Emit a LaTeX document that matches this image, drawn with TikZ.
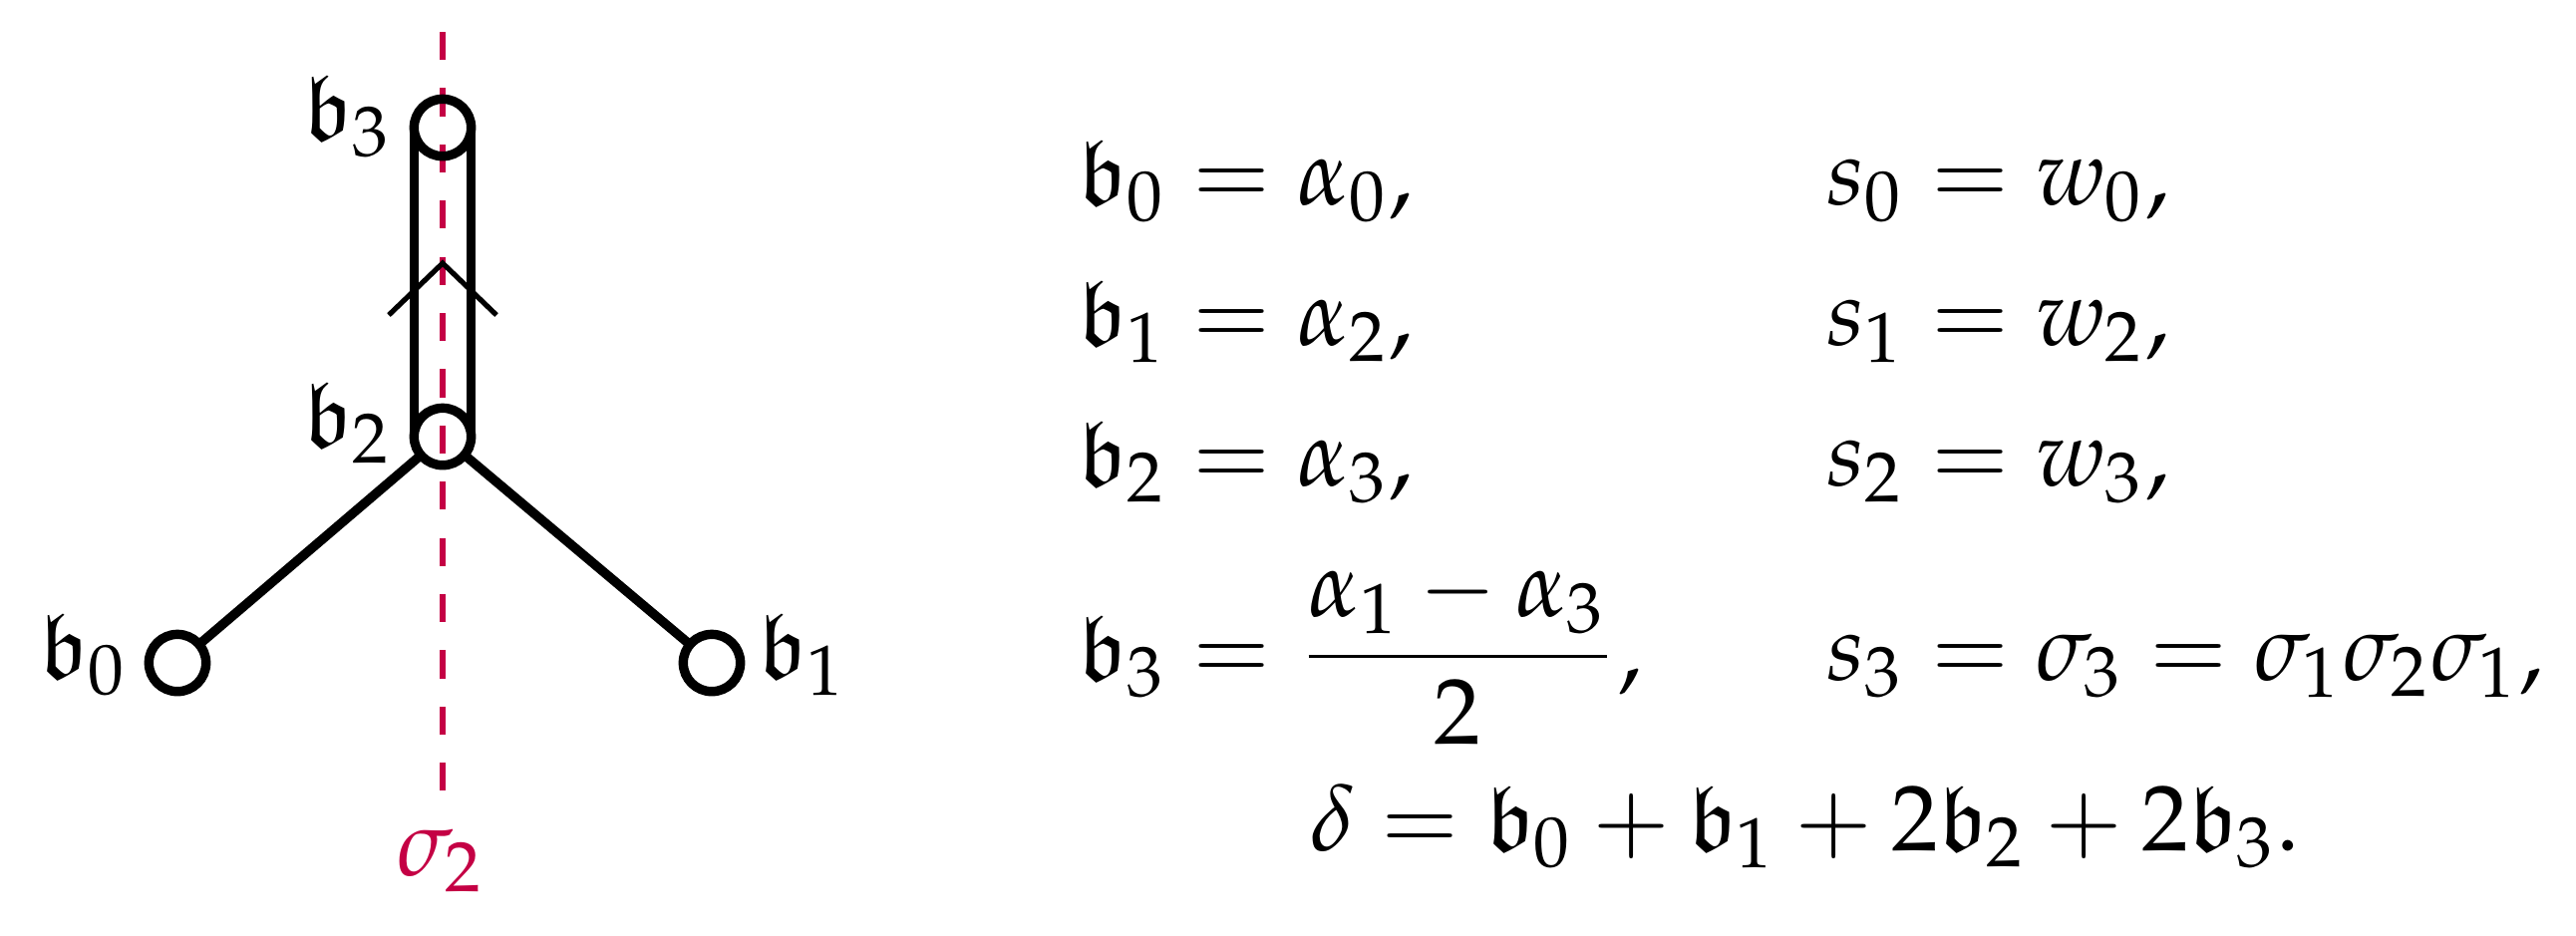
\documentclass[tikz,border=0pt]{standalone}
\usepackage{amsmath}
\usepackage{mathpazo}
\usepackage{amssymb}
\definecolor{sigred}{RGB}{196,0,68}
\tikzset{
  vert/.style={circle, draw, line width=1pt, minimum size=6.1pt, inner sep=0pt, outer sep=0pt},
  edge/.style={line width=1pt},
  chev/.style={line width=0.55pt},
  mirror/.style={sigred, line width=0.65pt, dash pattern=on 3pt off 3pt},
  lab/.style={inner sep=0pt, font=\fontsize{10}{12}\selectfont},
  eq/.style={inner sep=0pt, anchor=base west, font=\fontsize{10}{12}\selectfont}
}
\begin{document}
\begin{tikzpicture}[x=0.10638pt, y=-0.10638pt]
\useasboundingbox (0,0) rectangle (2584,938);
% mirror line
\coordinate (mtop) at (444,32);
\coordinate (mbot) at (444,810);
\draw[mirror] (mtop) -- (mbot);
\node[lab, anchor=base, text=sigred] (sig) at (443,878) {$\sigma_2$};
% vertices
\node[vert] (v3) at (444,128) {};
\node[vert] (v2) at (444,438) {};
\node[vert] (v0) at (178,665) {};
\node[vert] (v1) at (714,665) {};
% edges
\draw[edge] (v2) -- (v0);
\draw[edge] (v2) -- (v1);
\draw[edge] (v3.west) -- (v2.west);
\draw[edge] (v3.east) -- (v2.east);
% chevron
\coordinate (cl) at (390,316);
\coordinate (ca) at (444,264);
\coordinate (cr) at (498,316);
\draw[chev] (cl) -- (ca) -- (cr);
% labels
\node[lab, anchor=base west] (l3) at (303,140) {$\mathfrak{b}_3$};
\node[lab, anchor=base west] (l2) at (303,448) {$\mathfrak{b}_2$};
\node[lab, anchor=base west] (l0) at (38,680) {$\mathfrak{b}_0$};
\node[lab, anchor=base west] (l1) at (759,680) {$\mathfrak{b}_1$};
% equations
\node[eq] (e1) at (1080,205) {$\mathfrak{b}_0 = \alpha_0,$};
\node[eq] (e2) at (1080,346) {$\mathfrak{b}_1 = \alpha_2,$};
\node[eq] (e3) at (1080,487) {$\mathfrak{b}_2 = \alpha_3,$};
\node[eq] (e4) at (1080,682) {$\mathfrak{b}_3 = \dfrac{\alpha_1-\alpha_3}{2},$};
\node[eq] (s1) at (1830,205) {$s_0 = w_0,$};
\node[eq] (s2) at (1830,346) {$s_1 = w_2,$};
\node[eq] (s3) at (1830,487) {$s_2 = w_3,$};
\node[eq] (s4) at (1830,682) {$s_3 = \sigma_3 = \sigma_1\sigma_2\sigma_1,$};
\node[eq] (dl) at (1312,853) {$\delta = \mathfrak{b}_0 + \mathfrak{b}_1 + 2\mathfrak{b}_2 + 2\mathfrak{b}_3.$};
\end{tikzpicture}
\end{document}
